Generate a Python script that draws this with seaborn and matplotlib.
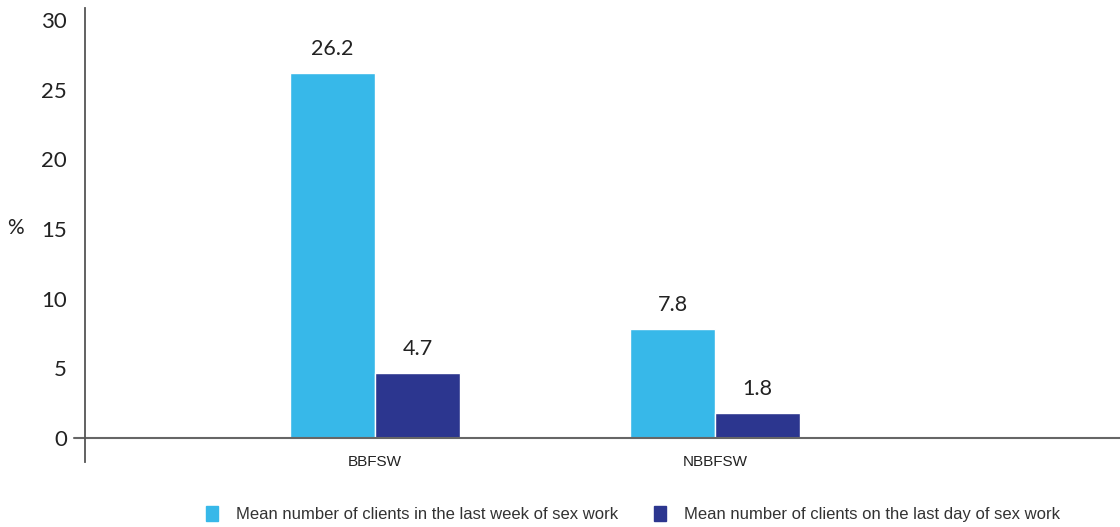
import pandas as pd
import matplotlib
matplotlib.use("Agg")
import matplotlib.pyplot as plt
import seaborn as sns

# values as printed on the chart
groups = ["BBFSW", "NBBFSW"]
series = ["Mean number of clients in the last week of sex work",
          "Mean number of clients on the last day of sex work"]
last_week = [26.2, 7.8]
last_day = [4.7, 1.8]
y_ticks = [0, 5, 10, 15, 20, 25, 30]

colors = ["#37b8e9", "#2c368f"]

df = pd.DataFrame({
    "group": groups * 2,
    "series": [series[0]] * 2 + [series[1]] * 2,
    "value": last_week + last_day,
})

sns.set_style("white")
plt.rcParams["font.family"] = ["Lato", "DejaVu Sans"]
narrow = ["Liberation Sans", "DejaVu Sans"]

fig = plt.figure(figsize=(11.2, 5.27), dpi=100)
ax = fig.add_axes([85 / 1120, 65 / 527, 1035 / 1120, 454 / 527])

sns.barplot(data=df, x="group", y="value", hue="series", order=groups,
            hue_order=series, palette=colors, width=0.5, saturation=1,
            ax=ax, legend=False)

ax.set_xlim(-0.853, 2.19)
ax.set_ylim(-1.72, 30.87)

# value labels above each bar
for cont in ax.containers:
    for bar in cont:
        h = bar.get_height()
        ax.text(bar.get_x() + bar.get_width() / 2, h + 1.0, f"{h:.1f}",
                ha="center", va="bottom", fontsize=15.5, color="#222222")

# only the left spine stays, zero line drawn separately
for side in ["top", "right", "bottom"]:
    ax.spines[side].set_visible(False)
ax.spines["left"].set_color("#555555")
ax.spines["left"].set_linewidth(1.3)
ax.axhline(0, xmin=-0.011, xmax=1, color="#666666", lw=1.5, clip_on=False)

ax.set_yticks(y_ticks)
ax.set_yticklabels([str(t) for t in y_ticks], fontsize=16, color="#222222")
ax.tick_params(axis="y", length=0, pad=13)

ax.set_xticks(range(len(groups)))
ax.set_xticklabels([])
ax.tick_params(axis="x", length=0)
for i, g in enumerate(groups):
    ax.text(i, -1.72, g, ha="center", va="center", fontsize=11,
            family=narrow, color="#222222")

ax.set_xlabel("")
ax.set_ylabel("")
fig.text(15 / 1120, 1 - 228 / 527, "%", ha="center", va="center",
         fontsize=15, color="#222222")

# legend along the bottom
handles = [plt.Rectangle((0, 0), 1, 1, color=c) for c in colors]
leg = fig.legend(handles, series, loc="center", bbox_to_anchor=(633 / 1120, 1 - 514 / 527),
                 ncol=2, frameon=False, handlelength=0.75, handleheight=1.0,
                 columnspacing=2.1, handletextpad=1.1,
                 prop={"family": narrow, "size": 12})
for t in leg.get_texts():
    t.set_color("#333333")

fig.savefig("out.png", dpi=100)
